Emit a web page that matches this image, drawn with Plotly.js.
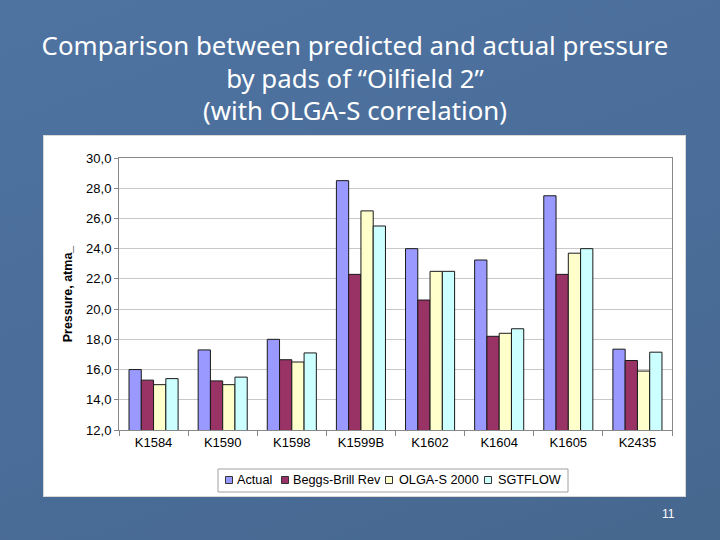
<!DOCTYPE html>
<html>
<head>
<meta charset="utf-8">
<script src="https://cdn.plot.ly/plotly-3.0.1.min.js"></script>
<style>
  html, body { margin:0; padding:0; width:720px; height:540px; overflow:hidden;
    background: linear-gradient(160deg, #4f73a0 0%, #4a6d9a 50%, #46688f 100%); }
  #title { position:absolute; left:0; top:29px; width:710px; text-align:center; color:#fff;
    font-family:"Noto Sans", "DejaVu Sans", sans-serif; font-size:25.8px; line-height:32.5px; }
  #box { position:absolute; left:43px; top:135px; width:641px; height:360px; background:#fff;
    border:1px solid #d8d8d8; }
  #chart { position:absolute; left:0; top:0; width:720px; height:540px; }
  #page { position:absolute; left:662px; top:507px; color:#fff; font-family:Arial, "Liberation Sans", sans-serif; font-size:12px; }
</style>
</head>
<body>
<div id="title">Comparison between predicted and actual pressure<br>by pads of “Oilfield 2”<br>(with OLGA-S correlation)</div>
<div id="box"></div>
<div id="chart"></div>
<div id="page">11</div>
<script>
const categories = ["K1584","K1590","K1598","K1599B","K1602","K1604","K1605","K2435"];
const actual     = [16.0, 17.3, 18.0, 28.5, 24.0, 23.25, 27.5, 17.35];
const beggsBrill = [15.3, 15.25, 16.65, 22.3, 20.6, 18.2, 22.3, 16.6];
const olgaS      = [15.0, 15.0, 16.5, 26.5, 22.5, 18.4, 23.7, 15.9];
const sgtflow    = [15.4, 15.5, 17.1, 25.5, 22.5, 18.7, 24.0, 17.15];
const seriesNames = ["Actual","Beggs-Brill Rev","OLGA-S 2000","SGTFLOW"];
const yTickVals = [12,14,16,18,20,22,24,26,28,30];
const yTickText = ["12,0","14,0","16,0","18,0","20,0","22,0","24,0","26,0","28,0","30,0"];

const colors = ["#9999FF","#993366","#FFFFCC","#CCFFFF"];
const data = [actual, beggsBrill, olgaS, sgtflow].map((vals, i) => ({
  type: "bar", x: categories, y: vals, name: seriesNames[i],
  marker: { color: colors[i], line: { color: "#1a1a1a", width: 1 } }
}));

const M = { l: 119, r: 48, t: 158, b: 110 };
const PW = 720 - M.l - M.r, PH = 540 - M.t - M.b;
const px = x => (x - M.l) / PW;
const py = y => (540 - M.b - y) / PH;

const font = { family: "Arial, 'Liberation Sans', sans-serif", color: "#000" };

// custom compact legend (Excel style)
const legendItemX = [229, 285, 389, 488];
const legendTextX = [235, 291, 397, 496];
const legendY = 480;
const shapes = [{
  type: "rect", xref: "paper", yref: "paper",
  x0: px(218), x1: px(568), y0: py(469), y1: py(492),
  line: { color: "#a0a0a0", width: 1 }, fillcolor: "#fff", layer: "above"
}];
const annotations = [];
seriesNames.forEach((n, i) => {
  shapes.push({ type: "rect", xref: "paper", yref: "paper",
    x0: px(legendItemX[i] - 3.5), x1: px(legendItemX[i] + 3.5),
    y0: py(legendY - 3.5), y1: py(legendY + 3.5),
    line: { color: "#333", width: 1 }, fillcolor: colors[i], layer: "above" });
  annotations.push({ xref: "paper", yref: "paper", x: px(legendTextX[i]), y: py(legendY),
    xanchor: "left", yanchor: "middle", showarrow: false, text: n,
    font: Object.assign({ size: 12.7 }, font) });
});

const layout = {
  width: 720, height: 540,
  paper_bgcolor: "rgba(0,0,0,0)", plot_bgcolor: "#fff",
  margin: M,
  barmode: "group", bargap: 0.29, bargroupgap: 0,
  showlegend: false,
  shapes: shapes, annotations: annotations,
  xaxis: { type: "category", tickson: "boundaries", ticks: "outside", ticklen: 5,
    tickcolor: "#888", showline: true, linecolor: "#888", mirror: true,
    tickfont: Object.assign({ size: 13 }, font), showgrid: false },
  yaxis: { range: [12, 30], tickvals: yTickVals, ticktext: yTickText,
    ticks: "outside", ticklen: 4, tickcolor: "#888",
    showline: true, linecolor: "#888", mirror: true,
    gridcolor: "#c8c8c8", gridwidth: 1,
    tickfont: Object.assign({ size: 13 }, font),
    title: { text: "<b>Pressure, atma_</b>", font: Object.assign({ size: 12.5 }, font), standoff: 10 } }
};
Plotly.newPlot("chart", data, layout, { displayModeBar: false, staticPlot: true });
</script>
</body>
</html>
